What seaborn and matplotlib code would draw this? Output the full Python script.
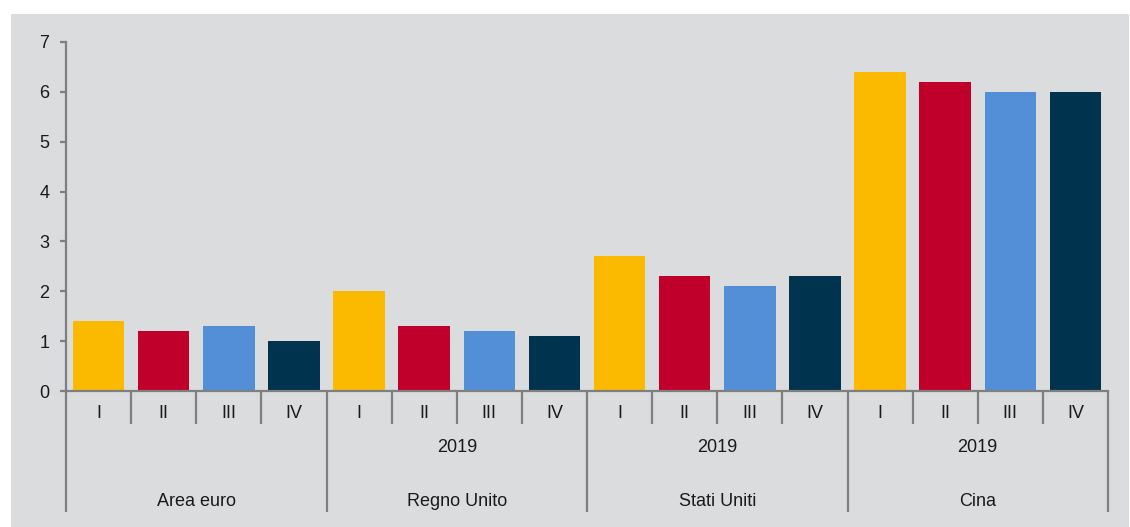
import matplotlib
matplotlib.use("Agg")
import matplotlib.pyplot as plt
import matplotlib.transforms as mtransforms
from matplotlib.patches import Rectangle
import seaborn as sns
import pandas as pd

countries = ["Area euro", "Regno Unito", "Stati Uniti", "Cina"]
year_labels = ["", "2019", "2019", "2019"]
quarters = ["I", "II", "III", "IV"]
area_euro = [1.4, 1.2, 1.3, 1.0]
regno_unito = [2.0, 1.3, 1.2, 1.1]
stati_uniti = [2.7, 2.3, 2.1, 2.3]
cina = [6.4, 6.2, 6.0, 6.0]
colors = ["#FBBA00", "#C0002A", "#538FD6", "#00334D"]
yticks = [0, 1, 2, 3, 4, 5, 6, 7]

series = [area_euro, regno_unito, stati_uniti, cina]
rows = []
for c, vals in zip(countries, series):
    for q, v in zip(quarters, vals):
        rows.append({"slot": f"{c} {q}", "quarter": q, "value": v})
df = pd.DataFrame(rows)

sns.set_style("white")
plt.rcParams["font.family"] = ["Liberation Sans", "DejaVu Sans"]

W, H = 1130, 527
FS = 13
fig = plt.figure(figsize=(W / 100, H / 100), dpi=100, facecolor="white")
bg = "#DBDCDE"
fig.patches.append(Rectangle((11 / W, 0), (1129 - 11) / W, (H - 14) / H,
                             transform=fig.transFigure, facecolor=bg,
                             edgecolor="none", zorder=-10))

ax = fig.add_axes([66 / W, (H - 391) / H, (1108 - 66) / W, (391 - 42) / H])
ax.set_facecolor("none")

sns.barplot(data=df, x="slot", y="value", hue="quarter", dodge=False,
            palette=colors, width=0.79, legend=False, ax=ax, saturation=1,
            linewidth=0, edgecolor="none")

ax.set_xlim(-0.5, len(df) - 0.5)
ax.set_ylim(0, 7)
ax.set_yticks(yticks)
ax.set_yticklabels([str(t) for t in yticks], fontsize=FS, color="#1a1a1a")
ax.set_xticks([])
ax.set_xlabel("")
ax.set_ylabel("")

axis_col = "#7F7F7F"
for s in ["top", "right"]:
    ax.spines[s].set_visible(False)
for s in ["left", "bottom"]:
    ax.spines[s].set_color(axis_col)
    ax.spines[s].set_linewidth(1.6)
ax.tick_params(axis="y", length=4, width=1.6, color=axis_col, pad=8, left=True)

trans = mtransforms.blended_transform_factory(ax.transData, ax.transAxes)
ah = 391 - 42
y_l1 = -33 / ah
y_l3 = -121 / ah
n = len(df)
for k in range(n + 1):
    xb = k - 0.5
    yb = y_l3 if k % 4 == 0 else y_l1
    ax.plot([xb, xb], [0, yb], color=axis_col, lw=1.6, transform=trans,
            clip_on=False, solid_capstyle="butt")

for i, q in enumerate(df["quarter"]):
    ax.text(i, -22 / ah, q, transform=trans, ha="center", va="center",
            fontsize=FS, color="#1a1a1a")

for g, (c, yl) in enumerate(zip(countries, year_labels)):
    xc = g * 4 + 1.5
    if yl:
        ax.text(xc, -56 / ah, yl, transform=trans, ha="center", va="center",
                fontsize=FS, color="#1a1a1a")
    ax.text(xc, -111 / ah, c, transform=trans, ha="center", va="center",
            fontsize=FS, color="#1a1a1a")

fig.savefig("out.png", dpi=100, facecolor="white")
